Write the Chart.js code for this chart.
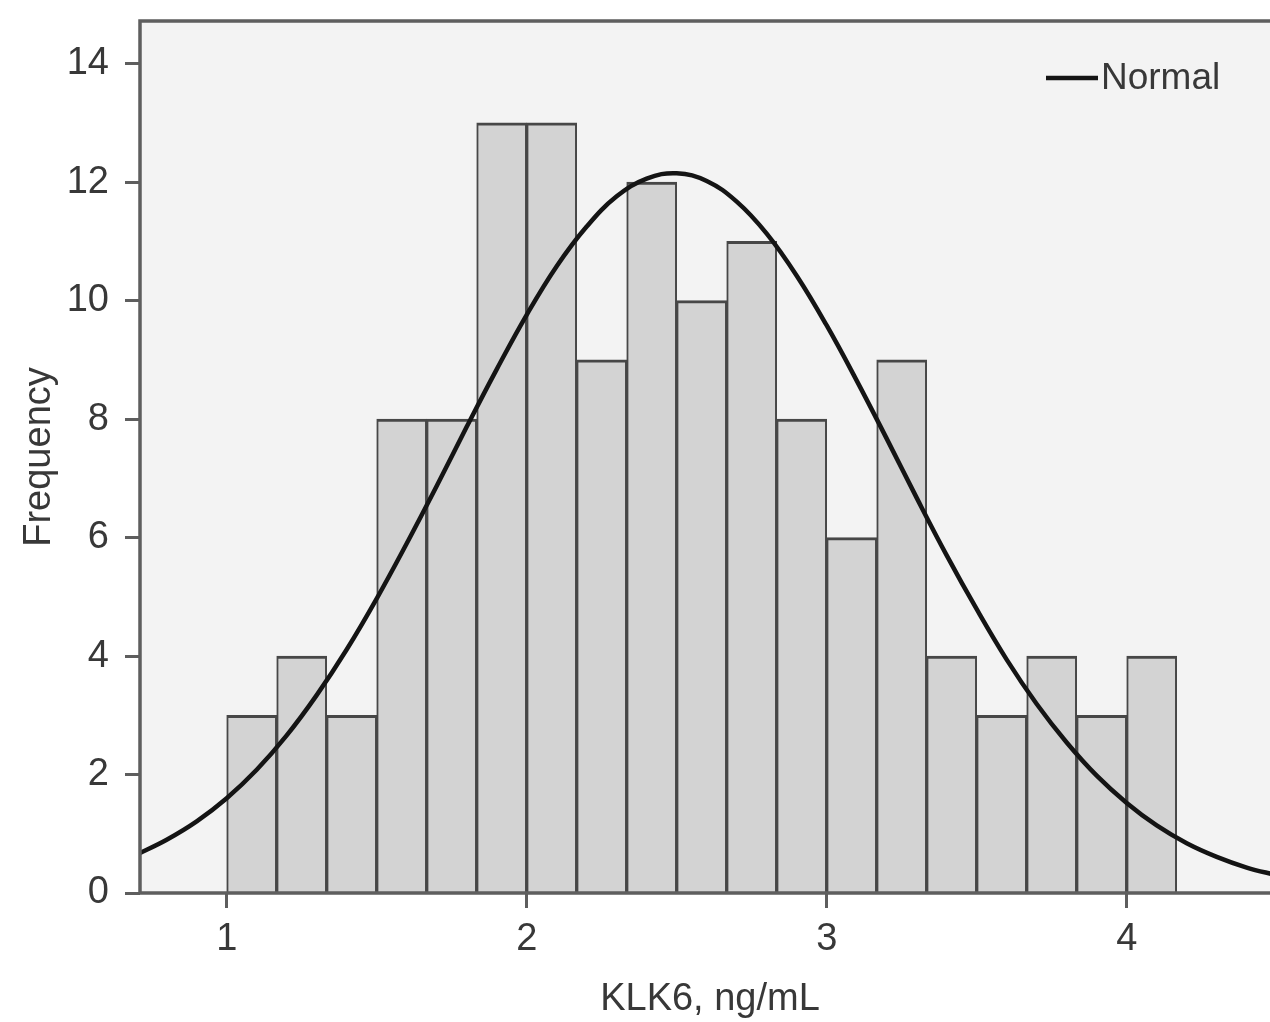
<!DOCTYPE html>
<html>
<head>
<meta charset="utf-8">
<title>KLK6 histogram</title>
<script src="https://cdn.jsdelivr.net/npm/chart.js@4/dist/chart.umd.min.js"></script>
<style>
  html, body { margin: 0; padding: 0; background: #fff; overflow: hidden; }
  #wrap { width: 1290px; height: 1022px; position: relative; }
</style>
</head>
<body>
<div id="wrap"><canvas id="hist"></canvas></div>
<script>
// KLK6 frequency histogram, bins 1/6 ng/mL wide starting at 1.0
const binCenters = [13/12, 15/12, 17/12, 19/12, 21/12, 23/12, 25/12, 27/12, 29/12, 31/12,
                    33/12, 35/12, 37/12, 39/12, 41/12, 43/12, 45/12, 47/12, 49/12];
const counts = [3, 4, 3, 8, 8, 13, 13, 9, 12, 10, 11, 8, 6, 9, 4, 3, 4, 3, 4];

// fitted normal curve, sampled every 0.1 ng/mL
const curveX = [0.7, 0.8, 0.9, 1.0, 1.1, 1.2, 1.3, 1.4, 1.5, 1.6, 1.7, 1.8, 1.9, 2.0,
                2.1, 2.2, 2.3, 2.4, 2.5, 2.6, 2.7, 2.8, 2.9, 3.0, 3.1, 3.2, 3.3, 3.4,
                3.5, 3.6, 3.7, 3.8, 3.9, 4.0, 4.1, 4.2, 4.3, 4.4, 4.5];
const curveY = [0.65, 0.90, 1.21, 1.60, 2.08, 2.66, 3.34, 4.11, 4.97, 5.90, 6.87, 7.87, 8.84, 9.76,
                10.58, 11.25, 11.76, 12.06, 12.15, 12.02, 11.67, 11.13, 10.42, 9.58, 8.65, 7.67, 6.67, 5.70,
                4.79, 3.94, 3.19, 2.54, 1.98, 1.52, 1.14, 0.84, 0.61, 0.43, 0.30];

const xTicks = [1, 2, 3, 4];
const yTicks = [0, 2, 4, 6, 8, 10, 12, 14];

const axisColor = '#5e5e5e';
const textColor = '#383838';
const fontFamily = '"Liberation Sans", Arial, sans-serif';

// plot panel fill and frame
const panel = {
    id: 'panel',
    beforeDraw(chart) {
        const { ctx, chartArea: a } = chart;
        ctx.save();
        ctx.fillStyle = '#f3f3f3';
        ctx.fillRect(a.left, a.top, a.right - a.left, a.bottom - a.top);
        ctx.restore();
    },
    afterDatasetsDraw(chart) {
        const { ctx, chartArea: a } = chart;
        ctx.save();
        ctx.strokeStyle = axisColor;
        ctx.lineWidth = 3.5;
        ctx.strokeRect(a.left, a.top, a.right - a.left, a.bottom - a.top);
        ctx.restore();
    }
};

// small legend in the upper right of the panel
const curveLegend = {
    id: 'curveLegend',
    afterDraw(chart) {
        const ds = chart.data.datasets[1];
        const { ctx } = chart;
        const y = 78;
        ctx.save();
        ctx.strokeStyle = ds.borderColor;
        ctx.lineWidth = 4.5;
        ctx.beginPath();
        ctx.moveTo(1046, y);
        ctx.lineTo(1098, y);
        ctx.stroke();
        ctx.fillStyle = textColor;
        ctx.font = '37px ' + fontFamily;
        ctx.textBaseline = 'middle';
        ctx.fillText(ds.label, 1101, y + 1);
        ctx.restore();
    }
};

new Chart(document.getElementById('hist'), {
    data: {
        datasets: [{
            type: 'bar',
            label: 'Frequency',
            data: binCenters.map((x, i) => ({ x: x, y: counts[i] })),
            backgroundColor: '#d3d3d3',
            borderColor: '#474747',
            borderWidth: { top: 3, left: 2, right: 2, bottom: 0 },
            borderSkipped: 'start',
            barPercentage: 1,
            categoryPercentage: 1,
            order: 2
        }, {
            type: 'line',
            label: 'Normal',
            data: curveX.map((x, i) => ({ x: x, y: curveY[i] })),
            borderColor: '#141414',
            borderWidth: 4.5,
            pointRadius: 0,
            tension: 0.4,
            fill: false,
            clip: 0,
            order: 1
        }]
    },
    options: {
        responsive: true,
        maintainAspectRatio: false,
        animation: false,
        layout: { padding: { left: 0, top: 21, right: 10, bottom: 0 } },
        plugins: {
            legend: { display: false },
            tooltip: { enabled: false }
        },
        scales: {
            x: {
                type: 'linear',
                offset: false,
                min: 0.711,
                max: 4.511,
                afterBuildTicks: s => { s.ticks = xTicks.map(v => ({ value: v })); },
                afterFit: s => { s.height = 129; s.paddingLeft = 0; s.paddingRight = 0; },
                grid: { offset: false, drawOnChartArea: false, drawTicks: true, tickLength: 15, tickColor: axisColor, tickWidth: 3 },
                border: { display: false },
                ticks: { color: textColor, font: { family: fontFamily, size: 38 }, padding: 9, maxRotation: 0 },
                title: {
                    display: true,
                    text: 'KLK6, ng/mL',
                    color: textColor,
                    font: { family: fontFamily, size: 38 },
                    padding: { top: 0, bottom: 0 }
                }
            },
            y: {
                type: 'linear',
                min: 0,
                max: 14.72,
                afterBuildTicks: s => { s.ticks = yTicks.map(v => ({ value: v })); },
                afterFit: s => { s.width = 140; s.paddingTop = 0; s.paddingBottom = 0; },
                grid: { drawOnChartArea: false, drawTicks: true, tickLength: 15, tickColor: axisColor, tickWidth: 3 },
                border: { display: false },
                ticks: { color: textColor, font: { family: fontFamily, size: 38 }, padding: 16 },
                title: {
                    display: true,
                    text: 'Frequency',
                    color: textColor,
                    font: { family: fontFamily, size: 38 },
                    padding: { top: 17, bottom: 0 }
                }
            }
        }
    },
    plugins: [panel, curveLegend]
});
</script>
</body>
</html>
